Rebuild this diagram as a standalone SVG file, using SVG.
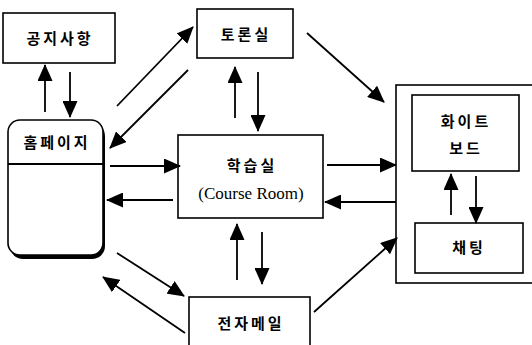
<svg xmlns="http://www.w3.org/2000/svg" width="532" height="345" viewBox="0 0 532 345">
<defs>
<marker id="ah" markerUnits="userSpaceOnUse" markerWidth="17" markerHeight="15" refX="16" refY="7.5" orient="auto">
<path d="M0,0 L17,7.5 L0,15 Z" fill="#000"/>
</marker>
<style>
.box{fill:#fff;stroke:#000;stroke-width:1.6}
.ko{font-family:"Noto Sans CJK KR","Noto Sans",sans-serif;font-size:15px;font-weight:bold;letter-spacing:3px;text-anchor:middle;fill:#000}
.en{font-family:"Liberation Serif",serif;font-size:17px;text-anchor:middle;fill:#000}
.c line{stroke:#000;stroke-width:1.8;marker-end:url(#ah)}
</style>
</defs>
<rect width="532" height="345" fill="#fff"/>
<g id="notice">
<rect class="box" x="3" y="13" width="112" height="50"/>
<text class="ko" x="60" y="44">공지사항</text>
</g>
<g id="discussion">
<rect class="box" x="197" y="9" width="96" height="49"/>
<text class="ko" x="246" y="40">토론실</text>
</g>
<g id="homepage">
<rect x="10" y="123" width="95" height="136" rx="13" fill="#000"/>
<rect class="box" x="8" y="120" width="95" height="135" rx="12"/>
<line x1="8" y1="164" x2="103" y2="164" stroke="#000" stroke-width="2"/>
<text class="ko" x="57" y="148">홈페이지</text>
</g>
<g id="course">
<rect class="box" x="178" y="135" width="145" height="83"/>
<text class="ko" x="252" y="171">학습실</text>
<text class="en" x="251" y="199">(Course Room)</text>
</g>
<g id="email">
<rect class="box" x="189" y="297" width="121" height="50"/>
<text class="ko" x="251" y="329">전자메일</text>
</g>
<g id="container">
<rect class="box" x="396" y="85" width="140" height="198"/>
</g>
<g id="whiteboard">
<rect class="box" x="412" y="95" width="107" height="76"/>
<text class="ko" x="466" y="127">화이트</text>
<text class="ko" x="466" y="154">보드</text>
</g>
<g id="chat">
<rect class="box" x="415" y="223" width="108" height="50"/>
<text class="ko" x="469" y="253">채팅</text>
</g>
<g class="c" id="connectors">
<line x1="45" y1="112" x2="45" y2="65"/>
<line x1="70" y1="72" x2="70" y2="117"/>
<line x1="117" y1="106" x2="193" y2="27"/>
<line x1="188" y1="70" x2="110" y2="148"/>
<line x1="235" y1="118" x2="235" y2="67"/>
<line x1="258" y1="72" x2="258" y2="131"/>
<line x1="307" y1="33" x2="384" y2="102"/>
<line x1="110" y1="166" x2="180" y2="166"/>
<line x1="173" y1="200" x2="107" y2="200"/>
<line x1="327" y1="165" x2="396" y2="165"/>
<line x1="396" y1="202" x2="325" y2="202"/>
<line x1="237" y1="280" x2="237" y2="224"/>
<line x1="262" y1="232" x2="262" y2="284"/>
<line x1="117" y1="253" x2="184" y2="296"/>
<line x1="185" y1="333" x2="103" y2="277"/>
<line x1="314" y1="312" x2="397" y2="238"/>
<line x1="451" y1="215" x2="451" y2="174"/>
<line x1="476" y1="176" x2="476" y2="223"/>
</g>
</svg>
